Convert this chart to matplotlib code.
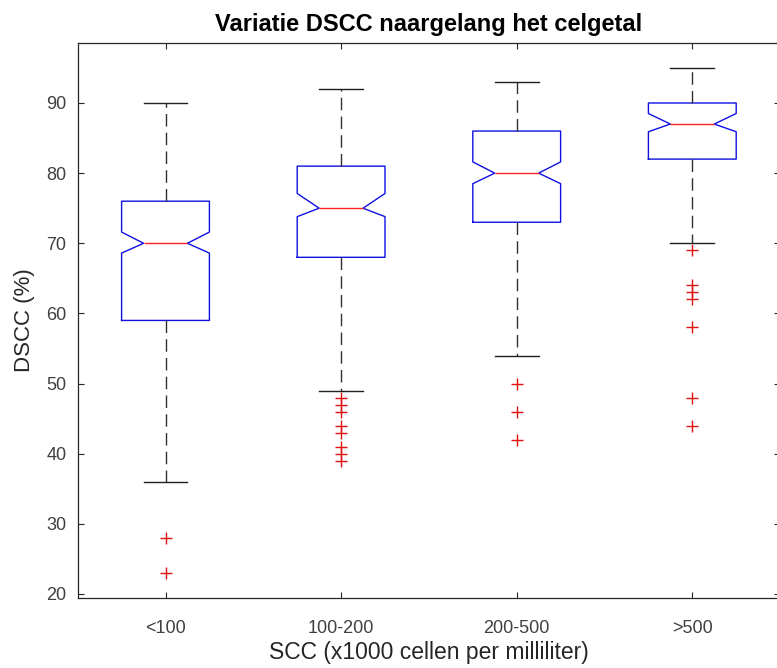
import matplotlib
matplotlib.use("Agg")
import matplotlib.pyplot as plt

categories = ["<100", "100-200", "200-500", ">500"]
medians = [70, 75, 80, 87]
q1 = [59, 68, 73, 82]
q3 = [76, 81, 86, 90]
whisker_low = [36, 49, 54, 70]
whisker_high = [90, 92, 93, 95]
notch_low = [68.6, 73.8, 78.5, 85.9]
notch_high = [71.6, 77.1, 81.6, 88.5]
outliers = [
    [28, 23],
    [48, 47, 46, 44, 43, 41, 40, 39],
    [50, 46, 42],
    [69, 64, 63, 62, 58, 48, 44],
]
yticks = [20, 30, 40, 50, 60, 70, 80, 90]

plt.rcParams["font.family"] = ["Liberation Sans", "DejaVu Sans"]

fig = plt.figure(figsize=(7.77, 6.68), dpi=100)
ax = fig.add_axes([0.100, 0.1048, 0.904, 0.8308])

stats = []
for i, c in enumerate(categories):
    stats.append(dict(label=c, med=medians[i], q1=q1[i], q3=q3[i],
                      whislo=whisker_low[i], whishi=whisker_high[i],
                      fliers=outliers[i], cilo=notch_low[i], cihi=notch_high[i]))

ax.bxp(stats, positions=[1, 2, 3, 4], widths=0.5, shownotches=True,
       boxprops=dict(color="#1010e0", linewidth=1.0),
       medianprops=dict(color="#ff2020", linewidth=1.0),
       whiskerprops=dict(color="#303030", linewidth=1.0, linestyle=(0, (9, 4.5))),
       capprops=dict(color="#202020", linewidth=1.0),
       flierprops=dict(marker="+", markeredgecolor="#e01010", markersize=8.5,
                       markeredgewidth=1.0, linestyle="none"),
       capwidths=0.25)

ax.set_xlim(0.5, 4.5)
ax.set_ylim(19.43, 98.55)
ax.set_yticks(yticks)
ax.set_xticks([1, 2, 3, 4])
ax.set_xticklabels(categories)

gray = "#262626"
for s in ax.spines.values():
    s.set_color(gray)
    s.set_linewidth(0.9)
ax.tick_params(direction="in", top=True, right=True, length=4, width=0.8,
               colors=gray, labelsize=13)
ax.tick_params(axis="x", labelcolor="#404040", pad=16)
ax.tick_params(axis="y", labelcolor="#404040", pad=8)

ax.set_title("Variatie DSCC naargelang het celgetal", fontsize=17,
             fontweight="bold", color="black", pad=8.5)
ax.set_xlabel("SCC (x1000 cellen per milliliter)", fontsize=16.5, color=gray, labelpad=3)
ax.set_ylabel("DSCC (%)", fontsize=16, color=gray, labelpad=8)

fig.savefig("out.png", dpi=100, facecolor="white")
